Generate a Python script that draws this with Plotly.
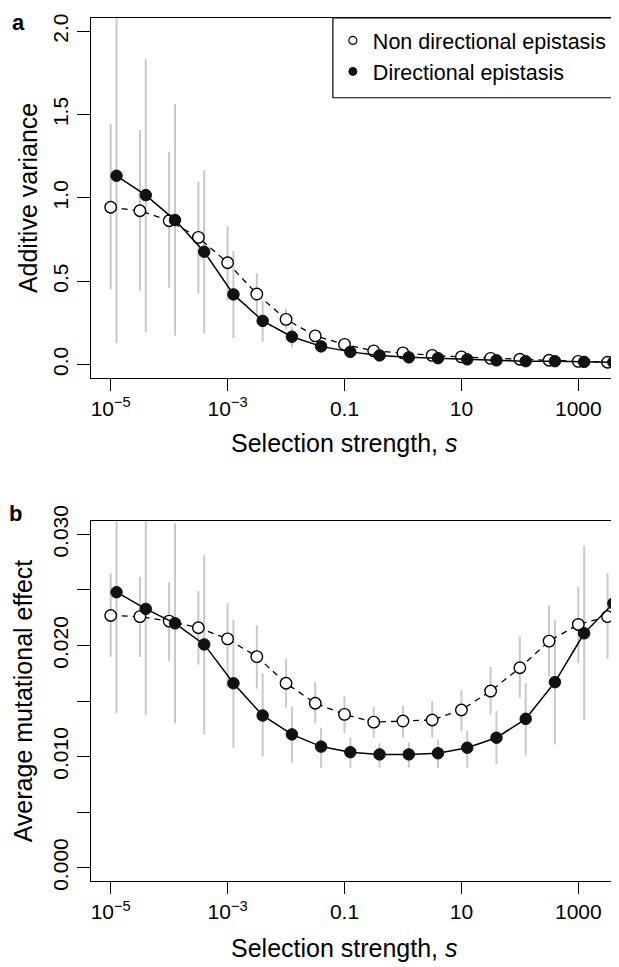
import plotly.graph_objects as go

# ---------------- data ----------------
selection_strength = [1e-5, 3.16e-5, 1e-4, 3.16e-4, 1e-3, 3.16e-3, 0.01, 0.0316,
                      0.1, 0.316, 1, 3.16, 10, 31.6, 100, 316, 1000, 3162]

# Panel a: additive variance
va_nondir = [0.944, 0.923, 0.863, 0.763, 0.611, 0.423, 0.271, 0.172, 0.121,
             0.082, 0.070, 0.055, 0.046, 0.037, 0.032, 0.026, 0.019, 0.014]
va_nondir_lo = [0.451, 0.441, 0.461, 0.427, 0.387, 0.300, 0.210, 0.140, 0.095,
                0.065, 0.055, 0.043, 0.035, 0.028, 0.024, 0.019, 0.013, 0.009]
va_nondir_hi = [1.444, 1.408, 1.277, 1.097, 0.831, 0.547, 0.337, 0.210, 0.150,
                0.100, 0.085, 0.068, 0.058, 0.047, 0.041, 0.034, 0.026, 0.020]
va_dir = [1.133, 1.017, 0.867, 0.677, 0.421, 0.262, 0.167, 0.109, 0.076,
          0.055, 0.043, 0.038, 0.031, 0.025, 0.020, 0.020, 0.016, 0.014]
va_dir_lo = [0.130, 0.196, 0.175, 0.187, 0.160, 0.136, 0.103, 0.075, 0.055,
             0.042, 0.033, 0.029, 0.023, 0.018, 0.014, 0.014, 0.011, 0.009]
va_dir_hi = [2.200, 1.832, 1.564, 1.168, 0.683, 0.380, 0.227, 0.145, 0.100,
             0.070, 0.055, 0.048, 0.040, 0.032, 0.027, 0.027, 0.022, 0.019]

# Panel b: average mutational effect
me_nondir = [0.0227, 0.0226, 0.0222, 0.0216, 0.0206, 0.0190, 0.0166, 0.0148, 0.0138,
             0.0131, 0.0132, 0.0133, 0.0142, 0.0159, 0.0180, 0.0204, 0.0219, 0.0226]
me_nondir_lo = [0.0190, 0.0190, 0.0186, 0.0183, 0.0162, 0.0161, 0.0144, 0.0130, 0.0121,
                0.0117, 0.0117, 0.0117, 0.0123, 0.0138, 0.0153, 0.0172, 0.0184, 0.0188]
me_nondir_hi = [0.0265, 0.0262, 0.0257, 0.0249, 0.0238, 0.0218, 0.0188, 0.0167, 0.0154,
                0.0145, 0.0146, 0.0150, 0.0160, 0.0181, 0.0208, 0.0236, 0.0253, 0.0265]
me_dir = [0.0248, 0.0233, 0.0220, 0.0201, 0.0166, 0.0137, 0.0120, 0.0109, 0.0104,
          0.0102, 0.0102, 0.0103, 0.0108, 0.0117, 0.0134, 0.0167, 0.0211, 0.0238]
me_dir_lo = [0.0139, 0.0137, 0.0130, 0.0120, 0.0108, 0.0100, 0.0095, 0.0090, 0.0090,
             0.0090, 0.0090, 0.0090, 0.0090, 0.0093, 0.0101, 0.0111, 0.0133, 0.0147]
me_dir_hi = [0.0330, 0.0330, 0.0310, 0.0281, 0.0223, 0.0175, 0.0145, 0.0126, 0.0117,
             0.0112, 0.0113, 0.0115, 0.0123, 0.0141, 0.0166, 0.0223, 0.0290, 0.0330]

x_tickvals = [1e-5, 1e-3, 0.1, 10, 1000]
x_ticktext = ["10<sup>\u22125</sup>", "10<sup>\u22123</sup>", "0.1", "10", "1000"]
ya_tickvals = [0.0, 0.5, 1.0, 1.5, 2.0]
ya_ticktext = ["0.0", "0.5", "1.0", "1.5", "2.0"]
yb_tickvals = [0.0, 0.010, 0.020, 0.030]
yb_ticktext = ["0.000", "0.010", "0.020", "0.030"]
yb_minor_tickvals = [0.005, 0.015, 0.025]

series_names = ["Non directional epistasis", "Directional epistasis"]
x_title = "Selection strength, <i>s</i>"
ya_title = "Additive variance"
yb_title = "Average mutational effect"

# ---------------- style ----------------
FONT = "Liberation Sans, Arial, Helvetica, sans-serif"
FS_TICK = 21
FS_TITLE = 25
FS_LEG = 21.5
DIR_JITTER = 10 ** 0.1      # horizontal offset of the directional series
BAR_COLOR = "#c9c9c9"
# page has an 8px body margin, so the figure is 8px smaller than the window
W, H = 611, 959
ML, MR, MT, MB = 82.7, 0, 10, 86.4
PLOT_W = W - ML - MR
PLOT_H = H - MT - MB
PANEL_H = 359.7

x_dir = [s * DIR_JITTER for s in selection_strength]


def bar_xy(xs, lo, hi):
    bx, by = [], []
    for x, l, h in zip(xs, lo, hi):
        bx += [x, x, None]
        by += [l, h, None]
    return bx, by


fig = go.Figure()


def add_panel(xa, ya, nd, nd_lo, nd_hi, d, d_lo, d_hi):
    for xs, lo, hi in ((selection_strength, nd_lo, nd_hi), (x_dir, d_lo, d_hi)):
        bx, by = bar_xy(xs, lo, hi)
        fig.add_trace(go.Scatter(x=bx, y=by, mode="lines", xaxis=xa, yaxis=ya,
                                 line=dict(color=BAR_COLOR, width=2),
                                 showlegend=False, hoverinfo="skip"))
    fig.add_trace(go.Scatter(x=selection_strength, y=nd, mode="lines+markers",
                             xaxis=xa, yaxis=ya, name=series_names[0], showlegend=False,
                             line=dict(color="black", width=1.3, dash="6px,5px"),
                             marker=dict(symbol="circle", size=11.5, color="white",
                                         line=dict(color="black", width=1.4))))
    fig.add_trace(go.Scatter(x=x_dir, y=d, mode="lines+markers",
                             xaxis=xa, yaxis=ya, name=series_names[1], showlegend=False,
                             line=dict(color="black", width=1.5),
                             marker=dict(symbol="circle", size=11.5, color="#111111",
                                         line=dict(color="#111111", width=1))))


add_panel("x", "y", va_nondir, va_nondir_lo, va_nondir_hi, va_dir, va_dir_lo, va_dir_hi)
add_panel("x2", "y2", me_nondir, me_nondir_lo, me_nondir_hi, me_dir, me_dir_lo, me_dir_hi)

# legend-only entries (markers only, as in the reference)
fig.add_trace(go.Scatter(x=[None], y=[None], mode="markers", name=series_names[0],
                         marker=dict(symbol="circle", size=8, color="white",
                                     line=dict(color="black", width=1.2)),
                         xaxis="x", yaxis="y"))
fig.add_trace(go.Scatter(x=[None], y=[None], mode="markers", name=series_names[1],
                         marker=dict(symbol="circle", size=8, color="#111111",
                                     line=dict(color="#111111", width=1)),
                         xaxis="x", yaxis="y"))

dom_a = [1 - PANEL_H / PLOT_H, 1.0]
dom_b = [0.0, PANEL_H / PLOT_H]

xaxis_common = dict(type="log", range=[-5.337, 3.696], showline=True, linecolor="black",
                    linewidth=1.3, mirror=True, ticks="outside", ticklen=12, tickwidth=1.3,
                    tickcolor="black", tickvals=x_tickvals, ticktext=x_ticktext,
                    showgrid=False, zeroline=False,
                    tickfont=dict(family=FONT, size=FS_TICK, color="black"))
yaxis_common = dict(showline=True, linecolor="black", linewidth=1.3, ticks="outside",
                    ticklen=13, tickwidth=1.3, tickcolor="black", tickangle=-90,
                    showgrid=False, zeroline=False,
                    tickfont=dict(family=FONT, size=FS_TICK, color="black"))

legend_x = (324.7 - ML) / PLOT_W
legend_bottom = (369.7 - 89.7) / PANEL_H
xtitle_x = (336 - ML) / PLOT_W     # x-axis title centre (as placed in the reference)

fig.update_layout(
    width=W, height=H, margin=dict(l=ML, r=MR, t=MT, b=MB, autoexpand=False),
    paper_bgcolor="white", plot_bgcolor="white",
    font=dict(family=FONT, size=FS_TICK, color="black"),
    xaxis=dict(domain=[0, 1], anchor="y", **xaxis_common),
    xaxis2=dict(domain=[0, 1], anchor="y2", **xaxis_common),
    yaxis=dict(domain=dom_a, anchor="x", range=[-0.08, 2.08],
               tickvals=ya_tickvals, ticktext=ya_ticktext,
               title=dict(text=ya_title, standoff=4,
                          font=dict(family=FONT, size=FS_TITLE, color="black")),
               **yaxis_common),
    yaxis2=dict(domain=dom_b, anchor="x2", range=[-0.0012, 0.0312],
                tickvals=yb_tickvals, ticktext=yb_ticktext,
                minor=dict(tickvals=yb_minor_tickvals, ticks="outside", ticklen=13,
                           tickwidth=1.3, tickcolor="black", showgrid=False),
                title=dict(text=yb_title, standoff=9,
                           font=dict(family=FONT, size=FS_TITLE, color="black")),
                **yaxis_common),
    legend=dict(x=legend_x, xanchor="left", y=0.9977, yanchor="top",
                bgcolor="rgba(255,255,255,0)", borderwidth=0,
                font=dict(family=FONT, size=FS_LEG, color="black"),
                tracegroupgap=0, itemsizing="trace"),
    shapes=[dict(type="rect", xref="paper", yref="y domain",
                 x0=legend_x, x1=1.2, y0=legend_bottom, y1=1.0,
                 line=dict(color="black", width=1.2), fillcolor="rgba(0,0,0,0)")],
    annotations=[
        dict(text=x_title, xref="paper", yref="paper", x=xtitle_x,
             y=1 - (435 - MT) / PLOT_H, showarrow=False, xanchor="center",
             yanchor="middle", font=dict(family=FONT, size=FS_TITLE, color="black")),
        dict(text=x_title, xref="paper", yref="paper", x=xtitle_x,
             y=1 - (940 - MT) / PLOT_H, showarrow=False, xanchor="center",
             yanchor="middle", font=dict(family=FONT, size=FS_TITLE, color="black")),
        dict(text="<b>a</b>", xref="paper", yref="paper", x=(10 - ML) / PLOT_W,
             y=1 - 4 / PLOT_H, showarrow=False, xanchor="center", yanchor="middle",
             font=dict(family=FONT, size=22, color="black")),
        dict(text="<b>b</b>", xref="paper", yref="paper", x=(7.5 - ML) / PLOT_W,
             y=1 - (505 - MT) / PLOT_H, showarrow=False, xanchor="center", yanchor="middle",
             font=dict(family=FONT, size=22, color="black")),
    ],
)

fig.write_html("out.html")
